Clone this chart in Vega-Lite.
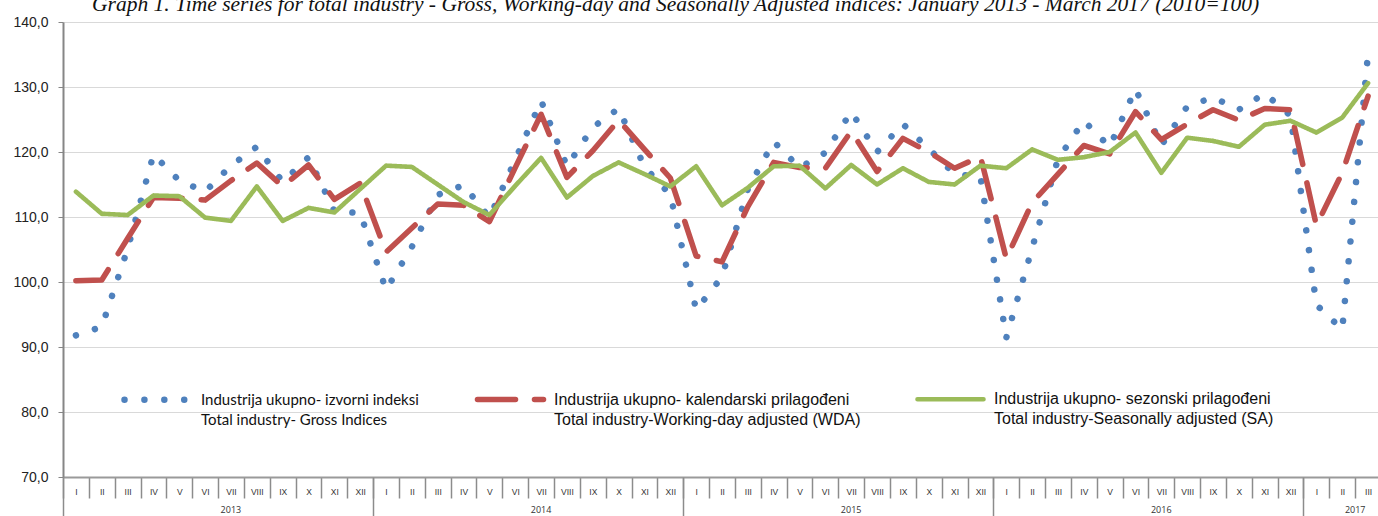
{
  "$schema": "https://vega.github.io/schema/vega-lite/v6.json",
  "width": 1318,
  "height": 455,
  "autosize": {"type": "none"},
  "padding": {"left": 63, "top": 22, "right": 0, "bottom": 39},
  "background": "white",
  "config": {"view": {"stroke": null}, "font": "Liberation Sans"},
  "title": {
    "text": "Graph 1. Time series for total industry - Gross, Working-day and Seasonally Adjusted indices: January 2013 - March 2017 (2010=100)",
    "font": "Liberation Serif", "fontStyle": "italic", "fontWeight": "normal", "fontSize": 21.5,
    "color": "#111", "anchor": "start", "frame": "group", "dx": 29, "offset": -22, "baseline": "bottom"
  },
  "datasets": {
    "series": [
      {"m":"2013-01","s":"G","v":91.8},{"m":"2013-02","s":"G","v":93.1},{"m":"2013-03","s":"G","v":105.1},{"m":"2013-04","s":"G","v":119.6},{"m":"2013-05","s":"G","v":115.6},{"m":"2013-06","s":"G","v":113.9},{"m":"2013-07","s":"G","v":117.9},{"m":"2013-08","s":"G","v":120.8},{"m":"2013-09","s":"G","v":115.4},{"m":"2013-10","s":"G","v":119.2},{"m":"2013-11","s":"G","v":110.9},{"m":"2013-12","s":"G","v":110.6},
      {"m":"2014-01","s":"G","v":98.8},{"m":"2014-02","s":"G","v":105.4},{"m":"2014-03","s":"G","v":113.4},{"m":"2014-04","s":"G","v":114.9},{"m":"2014-05","s":"G","v":109.9},{"m":"2014-06","s":"G","v":118.8},{"m":"2014-07","s":"G","v":127.9},{"m":"2014-08","s":"G","v":117.8},{"m":"2014-09","s":"G","v":123.8},{"m":"2014-10","s":"G","v":126.7},{"m":"2014-11","s":"G","v":117.7},{"m":"2014-12","s":"G","v":113.4},
      {"m":"2015-01","s":"G","v":95.7},{"m":"2015-02","s":"G","v":100.8},{"m":"2015-03","s":"G","v":114.3},{"m":"2015-04","s":"G","v":121.6},{"m":"2015-05","s":"G","v":117.6},{"m":"2015-06","s":"G","v":119.9},{"m":"2015-07","s":"G","v":126.2},{"m":"2015-08","s":"G","v":120.0},{"m":"2015-09","s":"G","v":124.3},{"m":"2015-10","s":"G","v":120.5},{"m":"2015-11","s":"G","v":116.6},{"m":"2015-12","s":"G","v":116.2},
      {"m":"2016-01","s":"G","v":91.4},{"m":"2016-02","s":"G","v":105.2},{"m":"2016-03","s":"G","v":118.9},{"m":"2016-04","s":"G","v":124.8},{"m":"2016-05","s":"G","v":120.8},{"m":"2016-06","s":"G","v":129.7},{"m":"2016-07","s":"G","v":121.0},{"m":"2016-08","s":"G","v":127.0},{"m":"2016-09","s":"G","v":128.4},{"m":"2016-10","s":"G","v":126.5},{"m":"2016-11","s":"G","v":129.0},{"m":"2016-12","s":"G","v":125.6},
      {"m":"2017-01","s":"G","v":96.5},{"m":"2017-02","s":"G","v":92.7},{"m":"2017-03","s":"G","v":135.2},
      {"m":"2013-01","s":"W","v":100.2},{"m":"2013-02","s":"W","v":100.3},{"m":"2013-03","s":"W","v":106.7},{"m":"2013-04","s":"W","v":113.0},{"m":"2013-05","s":"W","v":112.9},{"m":"2013-06","s":"W","v":112.6},{"m":"2013-07","s":"W","v":115.6},{"m":"2013-08","s":"W","v":118.3},{"m":"2013-09","s":"W","v":114.7},{"m":"2013-10","s":"W","v":118.0},{"m":"2013-11","s":"W","v":112.7},{"m":"2013-12","s":"W","v":115.2},
      {"m":"2014-01","s":"W","v":104.6},{"m":"2014-02","s":"W","v":108.3},{"m":"2014-03","s":"W","v":112.0},{"m":"2014-04","s":"W","v":111.8},{"m":"2014-05","s":"W","v":109.3},{"m":"2014-06","s":"W","v":117.6},{"m":"2014-07","s":"W","v":125.8},{"m":"2014-08","s":"W","v":116.1},{"m":"2014-09","s":"W","v":120.2},{"m":"2014-10","s":"W","v":124.9},{"m":"2014-11","s":"W","v":120.4},{"m":"2014-12","s":"W","v":116.0},
      {"m":"2015-01","s":"W","v":104.0},{"m":"2015-02","s":"W","v":103.1},{"m":"2015-03","s":"W","v":111.6},{"m":"2015-04","s":"W","v":118.4},{"m":"2015-05","s":"W","v":117.6},{"m":"2015-06","s":"W","v":117.5},{"m":"2015-07","s":"W","v":123.2},{"m":"2015-08","s":"W","v":117.0},{"m":"2015-09","s":"W","v":122.1},{"m":"2015-10","s":"W","v":120.0},{"m":"2015-11","s":"W","v":117.5},{"m":"2015-12","s":"W","v":119.3},
      {"m":"2016-01","s":"W","v":103.6},{"m":"2016-02","s":"W","v":112.2},{"m":"2016-03","s":"W","v":116.6},{"m":"2016-04","s":"W","v":121.0},{"m":"2016-05","s":"W","v":119.7},{"m":"2016-06","s":"W","v":126.2},{"m":"2016-07","s":"W","v":121.9},{"m":"2016-08","s":"W","v":124.3},{"m":"2016-09","s":"W","v":126.5},{"m":"2016-10","s":"W","v":124.9},{"m":"2016-11","s":"W","v":126.7},{"m":"2016-12","s":"W","v":126.5},
      {"m":"2017-01","s":"W","v":108.7},{"m":"2017-02","s":"W","v":116.8},{"m":"2017-03","s":"W","v":128.6},
      {"m":"2013-01","s":"S","v":113.9},{"m":"2013-02","s":"S","v":110.5},{"m":"2013-03","s":"S","v":110.3},{"m":"2013-04","s":"S","v":113.3},{"m":"2013-05","s":"S","v":113.2},{"m":"2013-06","s":"S","v":109.9},{"m":"2013-07","s":"S","v":109.4},{"m":"2013-08","s":"S","v":114.7},{"m":"2013-09","s":"S","v":109.4},{"m":"2013-10","s":"S","v":111.4},{"m":"2013-11","s":"S","v":110.7},{"m":"2013-12","s":"S","v":114.3},
      {"m":"2014-01","s":"S","v":117.9},{"m":"2014-02","s":"S","v":117.7},{"m":"2014-03","s":"S","v":115.0},{"m":"2014-04","s":"S","v":112.3},{"m":"2014-05","s":"S","v":110.3},{"m":"2014-06","s":"S","v":114.8},{"m":"2014-07","s":"S","v":119.1},{"m":"2014-08","s":"S","v":113.0},{"m":"2014-09","s":"S","v":116.3},{"m":"2014-10","s":"S","v":118.4},{"m":"2014-11","s":"S","v":116.6},{"m":"2014-12","s":"S","v":114.7},
      {"m":"2015-01","s":"S","v":117.8},{"m":"2015-02","s":"S","v":111.8},{"m":"2015-03","s":"S","v":114.5},{"m":"2015-04","s":"S","v":117.8},{"m":"2015-05","s":"S","v":117.9},{"m":"2015-06","s":"S","v":114.4},{"m":"2015-07","s":"S","v":118.0},{"m":"2015-08","s":"S","v":115.0},{"m":"2015-09","s":"S","v":117.5},{"m":"2015-10","s":"S","v":115.4},{"m":"2015-11","s":"S","v":115.0},{"m":"2015-12","s":"S","v":117.9},
      {"m":"2016-01","s":"S","v":117.5},{"m":"2016-02","s":"S","v":120.4},{"m":"2016-03","s":"S","v":118.8},{"m":"2016-04","s":"S","v":119.2},{"m":"2016-05","s":"S","v":120.0},{"m":"2016-06","s":"S","v":123.0},{"m":"2016-07","s":"S","v":116.8},{"m":"2016-08","s":"S","v":122.2},{"m":"2016-09","s":"S","v":121.7},{"m":"2016-10","s":"S","v":120.8},{"m":"2016-11","s":"S","v":124.2},{"m":"2016-12","s":"S","v":124.8},
      {"m":"2017-01","s":"S","v":123.0},{"m":"2017-02","s":"S","v":125.3},{"m":"2017-03","s":"S","v":130.6}
    ]
  },
  "data": {"name": "series"},
  "transform": [{"calculate": "datum.s", "as": "k"}],
  "encoding": {
    "y": {
      "field": "v", "type": "quantitative",
      "scale": {"domain": [70, 140], "nice": false, "zero": false},
      "axis": {
        "title": null, "values": [70, 80, 90, 100, 110, 120, 130, 140],
        "labelExpr": "replace(format(datum.value, '.1f'), '.', ',')",
        "grid": true, "gridColor": "#D9D9D9", "gridWidth": 1,
        "domainColor": "#868686", "domainWidth": 2, "tickColor": "#868686", "tickSize": 5, "tickWidth": 1,
        "labelPadding": 10, "labelFont": "Liberation Sans", "labelFontSize": 14, "labelColor": "#222"
      }
    }
  },
  "layer": [
    {
      "mark": {"type": "line", "strokeCap": "round", "strokeJoin": "round"},
      "encoding": {
        "x": {
          "field": "m", "type": "ordinal",
          "scale": {"type": "band", "paddingInner": 0, "paddingOuter": 0},
          "axis": {
            "orient": "bottom", "title": null, "tickBand": "extent", "tickSize": 21,
            "tickColor": "#8c8c8c", "tickWidth": 1.5, "domainColor": "#9a9a9a", "domainWidth": 2,
            "labelExpr": "['I','II','III','IV','V','VI','VII','VIII','IX','X','XI','XII'][toNumber(split(datum.value,'-')[1])-1]",
            "labelAngle": 0, "labelFontSize": 8.5, "labelColor": "#333", "labelPadding": -11,
            "labelBaseline": "top", "labelFont": "Liberation Sans", "labelOverlap": false, "grid": false
          }
        },
        "color": {
          "field": "s", "type": "nominal",
          "scale": {"domain": ["G", "W", "S"], "range": ["#4F81BD", "#C0504D", "#9BBB59"]},
          "legend": {
            "orient": "none", "legendX": 58, "legendY": 341, "direction": "horizontal", "columns": 3,
            "columnPadding": 47, "title": null, "symbolType": "stroke", "symbolSize": 4356,
            "symbolStrokeWidth": 5, "labelFont": "Liberation Sans", "labelFontSize": 16, "labelColor": "#111",
            "labelLimit": 600, "labelOffset": 7, "labelBaseline": "middle", "padding": 0,
            "labelExpr": "datum.value === 'G' ? ['Industrija ukupno- izvorni indeksi', 'Total industry- Gross Indices'] : datum.value === 'W' ? ['Industrija ukupno- kalendarski prilagođeni', 'Total industry-Working-day adjusted (WDA)'] : ['Industrija ukupno- sezonski prilagođeni', 'Total industry-Seasonally adjusted (SA)']",
            "encode": {
              "symbols": {"update": {
                "strokeCap": {"value": "round"}
              }},
              "labels": {"update": {
                "lineHeight": {"value": 20},
                "font": {"signal": "datum.value === 'G' ? 'Lato' : 'Liberation Sans'"},
                "fontSize": {"signal": "datum.value === 'G' ? 15 : 16"}
              }}
            }
          }
        },
        "strokeDash": {
          "field": "k", "type": "nominal",
          "scale": {"domain": ["G", "W", "S"], "range": [[0.01, 19.9], [38, 19], [1, 0]]},
          "legend": null
        },
        "strokeWidth": {
          "field": "k", "type": "nominal",
          "scale": {"domain": ["G", "W", "S"], "range": [6.5, 4.6, 4.6]},
          "legend": null
        }
      }
    },
    {
      "mark": {"type": "line", "opacity": 0},
      "encoding": {
        "x": {
          "field": "m", "type": "ordinal",
          "scale": {"type": "band", "paddingInner": 0, "paddingOuter": 0},
          "axis": {
            "orient": "bottom", "title": null,
            "values": ["2013-01", "2014-01", "2015-01", "2016-01", "2017-01"],
            "bandPosition": 0, "tickSize": 39, "tickColor": "#8c8c8c", "tickWidth": 1.5, "domain": false,
            "labelExpr": "slice(datum.value, 0, 4)", "labelAngle": 0, "labelFontSize": 9, "labelColor": "#333",
            "labelPadding": -11, "labelBaseline": "top", "labelFont": "Open Sans",
            "labelOffset": {"condition": {"test": "datum.value === '2017-01'", "value": 38.8}, "value": 155},
            "labelOverlap": false, "grid": false
          }
        }
      }
    }
  ],
  "resolve": {"axis": {"x": "independent"}}
}
